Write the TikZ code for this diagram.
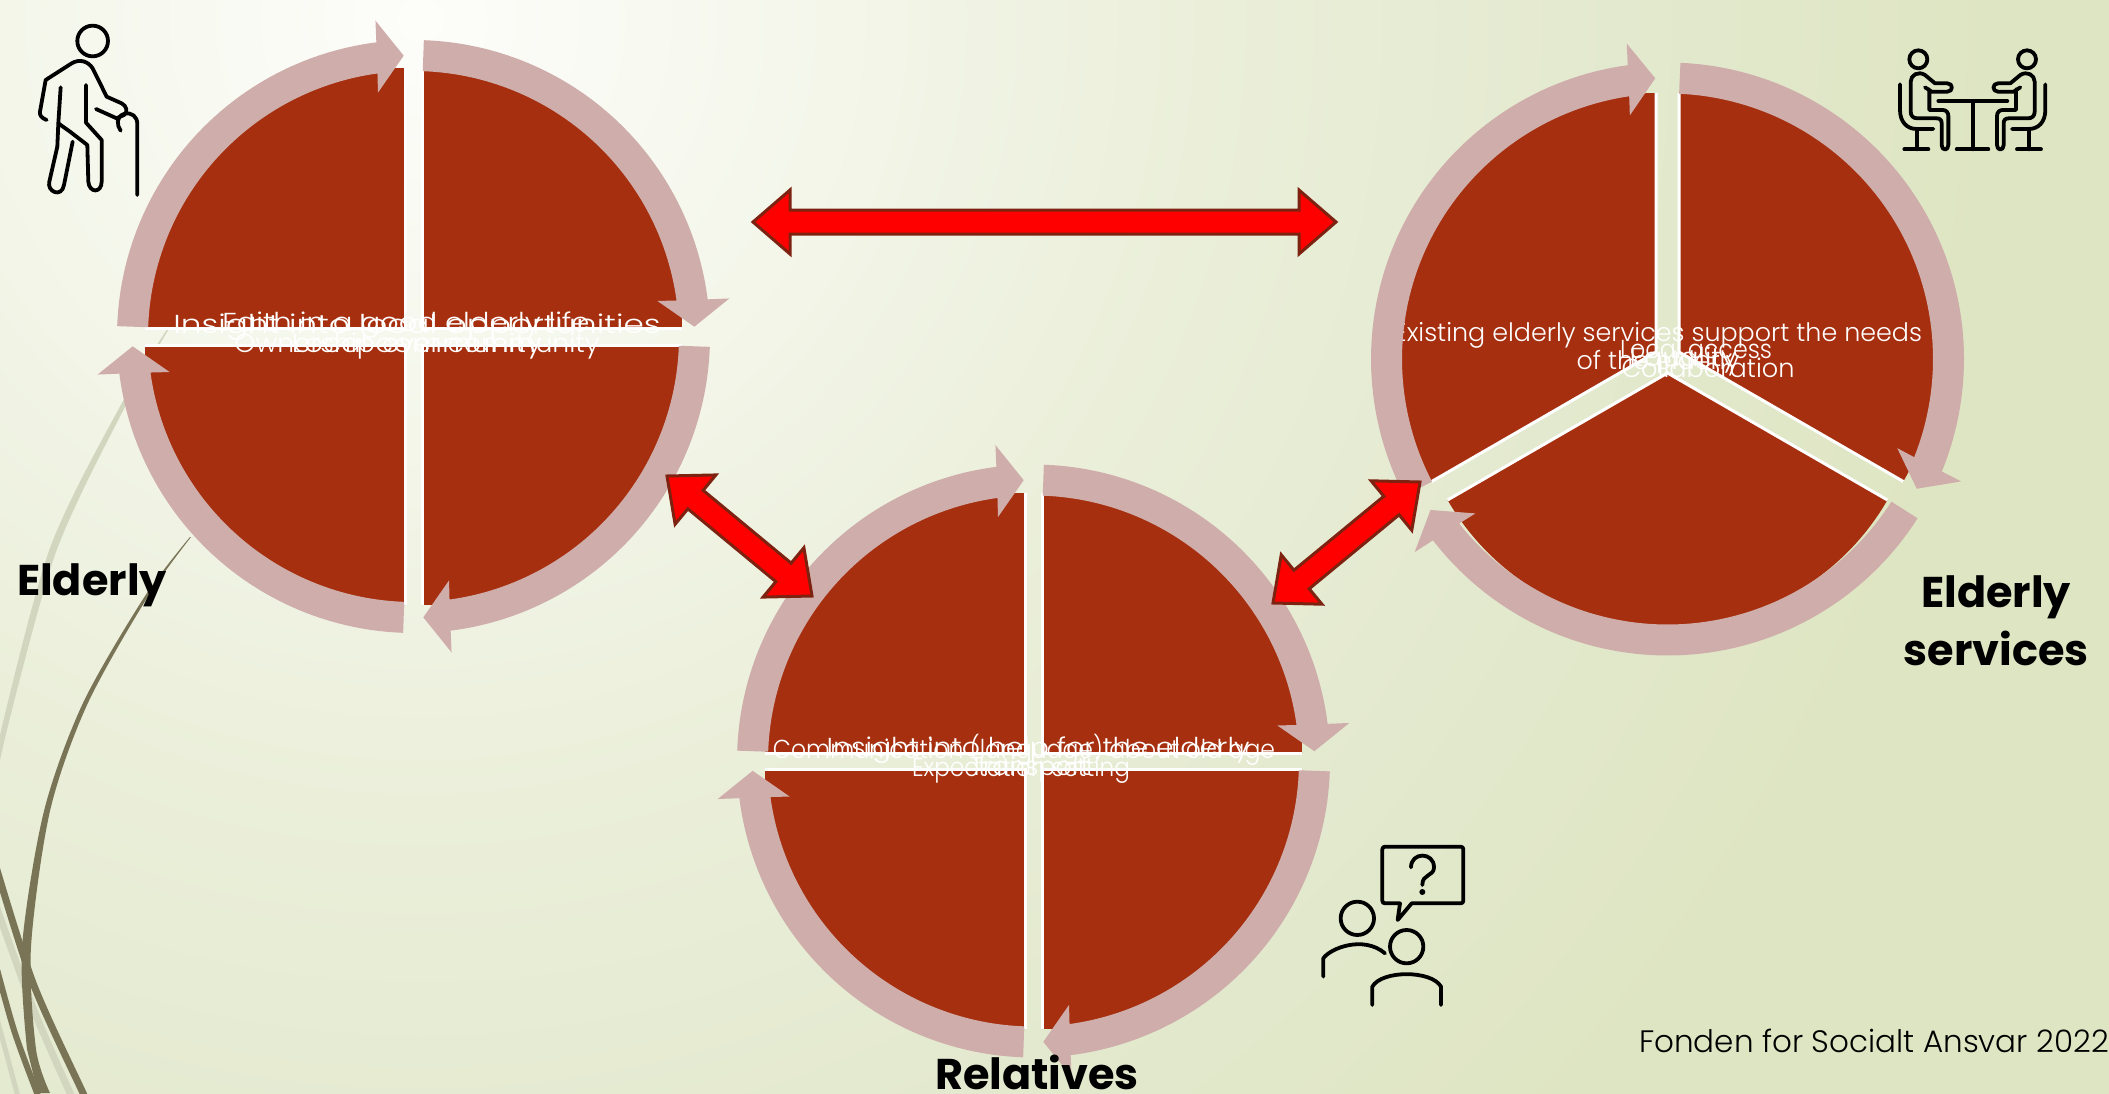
\documentclass[tikz,border=0pt]{standalone}
\usepackage{fontspec}
\usepackage{graphicx}
\usetikzlibrary{calc}
\setmainfont{Poppins}
\newfontfamily\lightfont{Poppins Light}
\definecolor{redpie}{HTML}{A52F0E}
\definecolor{ringc}{HTML}{CFADAB}
\definecolor{blockred}{HTML}{FF0000}
\definecolor{blockedge}{HTML}{7D2210}
\definecolor{wispdark}{HTML}{7A7456}
\definecolor{wisplight}{HTML}{D3D6BF}
\definecolor{bg0}{HTML}{FDFDFA}
\definecolor{bg1}{HTML}{F6F8EE}
\definecolor{bg2}{HTML}{ECF0DC}
\definecolor{bg3}{HTML}{E3E9CE}
\definecolor{bg4}{HTML}{DEE5C2}
\pgfdeclareradialshading{bgshade}{\pgfpoint{0bp}{0bp}}{%
  color(0bp)=(bg0);
  color(3.8bp)=(bg1);
  color(8.6bp)=(bg2);
  color(14.3bp)=(bg3);
  color(19bp)=(bg4);
  color(50bp)=(bg4)}
\newcommand{\piecut}[5]{% apex x, apex y, a0, a1, R
  \fill[redpie] (#1,#2) -- plot[domain=#3:#4,samples=70] ({#1+#5*cos(\x)},{#2+#5*sin(\x)}) -- cycle;
  \draw[white,line width=3pt,line cap=butt] ({#1+#5*cos(#3)},{#2+#5*sin(#3)}) -- (#1,#2) -- ({#1+#5*cos(#4)},{#2+#5*sin(#4)});
}
\newcommand{\ringarrow}[4]{% cx, cy, start, tip
  \pgfmathsetmacro{\ringo}{#4-5.2}
  \pgfmathsetmacro{\ringi}{#4-5.8}
  \fill[ringc] plot[domain=#3:\ringo,samples=70] ({#1+296.5*cos(\x)},{#2+296.5*sin(\x)})
    -- ({#1+317*cos(#4)+27*sin(#4)},{#2+317*sin(#4)-27*cos(#4)})
    -- ({#1+281*cos(#4)},{#2+281*sin(#4)})
    -- ({#1+245*cos(#4)+27*sin(#4)},{#2+245*sin(#4)-27*cos(#4)})
    -- plot[domain=\ringi:#3,samples=70] ({#1+265.5*cos(\x)},{#2+265.5*sin(\x)}) -- cycle;
}
\newcommand{\blockarrow}[2]{%
  \draw[blockstyle]
    (#1) -- ($(#1)!37pt!(#2)!32pt!90:(#2)$) -- ($(#1)!37pt!(#2)!12pt!90:(#2)$)
    -- ($(#2)!37pt!(#1)!12pt!-90:(#1)$) -- ($(#2)!37pt!(#1)!32pt!-90:(#1)$)
    -- (#2) -- ($(#2)!37pt!(#1)!32pt!90:(#1)$) -- ($(#2)!37pt!(#1)!12pt!90:(#1)$)
    -- ($(#1)!37pt!(#2)!12pt!-90:(#2)$) -- ($(#1)!37pt!(#2)!32pt!-90:(#2)$) -- cycle;
}
\newcommand{\wtext}[2]{\resizebox{#1pt}{\height}{#2}}
\tikzset{
  x=1pt,y=-1pt,
  blockstyle/.style={fill=blockred,draw=blockedge,line width=3pt,line join=miter},
  pietext/.style={text=white,font=\lightfont\fontsize{26}{26}\selectfont,inner sep=0pt,anchor=center},
  label/.style={text=black,font=\bfseries\fontsize{43}{58}\selectfont,inner sep=0pt,align=center,anchor=center},
  icon/.style={draw=black,line width=3.8pt,line cap=round,line join=round,fill=none},
}
\begin{document}
\begin{tikzpicture}
\useasboundingbox (0,0) rectangle (2109,1093);
\begin{scope}
\clip (0,0) rectangle (2109,1093);
\path[shading=bgshade] (420,20) circle (2100);
% wisps
\fill[wisplight] plot[smooth] coordinates {(172,322) (123,401) (50,548) (0,735)} -- (0,760) -- plot[smooth] coordinates {(5,738) (56,552) (127,403) (173,322)} -- cycle;
\draw[wisplight,line width=7pt] plot[smooth] coordinates {(-6,900) (33,1008) (70,1093) (76,1105)};
\draw[wisplight,line width=5pt] plot[smooth] coordinates {(-4,1015) (17,1093) (20,1105)};
\draw[wispdark,line width=7pt] plot[smooth] coordinates {(-6,860) (33,983) (83,1093) (90,1108)};
\draw[wispdark,line width=6pt] plot[smooth] coordinates {(-6,958) (14,1030) (37,1093) (42,1105)};
\fill[wispdark] plot[smooth] coordinates {(191,537) (147,598) (87,705) (50,811) (31,947) (36,1049) (50,1093)}
  -- (38,1093) -- plot[smooth] coordinates {(27,1049) (22,947) (44,811) (83,703) (145,596) (190,537)} -- cycle;
\end{scope}
% named centres
\coordinate (hubA) at (413.5,336.5);
\coordinate (hubB) at (1667.5,359);
\coordinate (hubC) at (1033.5,761);
% Elderly pies
\piecut{405}{328}{180}{270}{260}
\piecut{422}{328}{270}{360}{260}
\piecut{422}{345}{0}{90}{260}
\piecut{405}{345}{90}{180}{260}
% Services pies
\piecut{1679}{352}{270}{390}{259}
\piecut{1667.5}{373}{30}{150}{254}
\piecut{1656}{352}{150}{270}{259}
% Relatives pies
\piecut{1025}{753}{180}{270}{260}
\piecut{1042}{753}{270}{360}{260}
\piecut{1042}{769}{0}{90}{260}
\piecut{1025}{769}{90}{180}{260}
% texts
\node[pietext] (t1) at (417,327) {\wtext{487}{Insight into local opportunities}};
\node[pietext] (t2) at (406,325) {\wtext{367}{Faith in a good elderly life}};
\node[pietext] (t3) at (417,346) {\wtext{365}{Ownership over community}};
\node[pietext] (t4) at (417,346) {\wtext{250}{Local community}};
\node[pietext,align=center,font=\lightfont\fontsize{25.4}{28}\selectfont] (t5) at (1658,349) {Existing elderly services support the needs\\of the elderly};
\node[pietext] (t6) at (1696,349) {\wtext{152}{Local access}};
\node[pietext] (t7) at (1683,360) {\wtext{107}{Equality}};
\node[pietext] (t8) at (1708,368) {\wtext{173}{Collaboration}};
\node[pietext] (t9) at (1024,750) {\wtext{502}{Communication (language) about old age}};
\node[pietext] (t10) at (1038,750) {\wtext{423}{Insight into help for the elderly}};
\node[pietext] (t11) at (1021,770) {\wtext{218}{Expectation setting}};
\node[pietext] (t12) at (1030,770) {\wtext{120}{Transport}};
% rings
\ringarrow{413.5}{336.5}{182}{268}
\ringarrow{413.5}{336.5}{272}{358}
\ringarrow{413.5}{336.5}{2}{88}
\ringarrow{413.5}{336.5}{92}{178}
\ringarrow{1667.5}{359}{272.5}{387.5}
\ringarrow{1667.5}{359}{32.5}{147.5}
\ringarrow{1667.5}{359}{152.5}{267.5}
\ringarrow{1033.5}{761}{182}{268}
\ringarrow{1033.5}{761}{272}{358}
\ringarrow{1033.5}{761}{2}{88}
\ringarrow{1033.5}{761}{92}{178}
% block arrows
\coordinate (ab1) at (753,222); \coordinate (ab2) at (1336,222);
\coordinate (ac1) at (667,476); \coordinate (ac2) at (812,596);
\coordinate (bc1) at (1420,482); \coordinate (bc2) at (1273,603);
\blockarrow{ab1}{ab2}
\blockarrow{ac1}{ac2}
\blockarrow{bc1}{bc2}
% labels
\node[label] (lElderly) at (92,585) {Elderly};
\node[label] (lServices) at (1996,621) {Elderly\\services};
\node[label] (lRelatives) at (1037,1072) {Relatives};
\node[inner sep=0pt,anchor=east,text=black,font=\lightfont\fontsize{31}{31}\selectfont] (credit) at (2109,1041) {Fonden for Socialt Ansvar 2022};
% elder icon
\begin{scope}[shift={(0,0)},x=0.3333pt,y=-0.3333pt]
\draw[icon] (278,123) circle (46);
\draw[icon] (140,360) .. controls (125,355) and (118,345) .. (120,335) -- (137,240) -- (215,190) .. controls (240,175) and (265,185) .. (278,205) -- (320,290) -- (365,310) .. controls (380,318) and (385,335) .. (372,345) -- (350,355) -- (288,327);
\draw[icon] (362,392) .. controls (350,375) and (348,350) .. (372,342) .. controls (395,335) and (412,350) .. (412,372) -- (412,585);
\draw[icon] (182,262) -- (175,370) -- (172,440) -- (148,545) .. controls (140,575) and (185,595) .. (192,555) -- (218,425);
\draw[icon] (175,370) -- (210,395) -- (262,435) -- (265,545) .. controls (268,580) and (305,580) .. (305,545) -- (305,420) -- (258,368) -- (258,255);
\end{scope}
% table icon
\begin{scope}[shift={(1870,30)},x=0.3333pt,y=-0.3333pt]
\foreach \sgn/\off in {1/0,-1/616}{
\begin{scope}[xscale=\sgn,shift={(\off*\sgn,0)}]
\draw[icon] (145,88) circle (27);
\draw[icon] (90,163) -- (90,240) .. controls (90,275) and (110,297) .. (140,297) -- (190,297);
\draw[icon] (140,297) -- (140,358);
\draw[icon] (103,358) -- (175,358);
\draw[icon] (165,172) -- (185,185) -- (232,185) .. controls (250,185) and (250,160) .. (232,160) -- (195,160) -- (165,135) .. controls (145,122) and (122,135) .. (122,155) -- (122,245) .. controls (122,258) and (130,265) .. (142,265) -- (200,265) .. controls (210,265) and (215,270) .. (215,280) -- (215,345) .. controls (215,363) and (235,363) .. (235,345) -- (235,258) .. controls (235,247) and (228,240) .. (218,240) -- (178,240) -- (178,178);
\end{scope}}
\draw[icon] (205,213) -- (412,213);
\draw[icon] (308,213) -- (308,358);
\draw[icon] (260,358) -- (355,358);
\end{scope}
% people icon
\begin{scope}[shift={(1300,830)},x=0.3333pt,y=-0.3333pt]
\draw[icon] (293,270) -- (300,220) -- (255,220) .. controls (250,220) and (247,217) .. (247,212) -- (247,58) .. controls (247,53) and (250,50) .. (255,50) -- (482,50) .. controls (487,50) and (490,53) .. (490,58) -- (490,212) .. controls (490,217) and (487,220) .. (482,220) -- (335,220) -- cycle;
\draw[icon] (333,112) .. controls (333,65) and (402,65) .. (402,112) .. controls (402,140) and (367,130) .. (367,165);
\fill (367,186) circle (9);
\draw[icon] (172,265) circle (50);
\draw[icon] (70,440) -- (70,385) .. controls (90,355) and (190,315) .. (255,370);
\draw[icon] (320,350) circle (50);
\draw[icon] (217,525) -- (217,470) .. controls (245,420) and (395,420) .. (423,470) -- (423,525);
\end{scope}
\end{tikzpicture}
\end{document}
